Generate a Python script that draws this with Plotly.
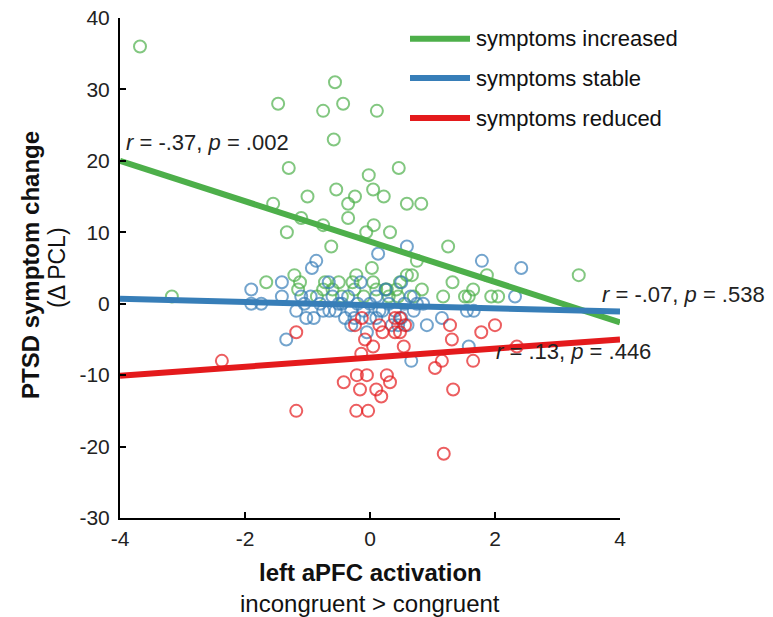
import plotly.graph_objects as go

# ---- data ----
green_x = [-3.68, -3.17, -1.47, -0.56, -0.43, -0.75, 0.11, -0.58, -1.30, 0.46, -0.02, -0.54, 0.05,
           -1.00, -0.24, 0.22, -1.55, -0.35, 0.59, 0.82, -0.35, -1.33, -1.10, -0.75, -0.06, 0.06,
           0.32, -0.62, 1.25, 0.03, 0.75, 3.34, 0.59, 0.67, 0.83, 1.32, 1.87, 1.52, 1.58, 1.65,
           1.17, 1.94, 2.05, 0.27, 0.42, -1.66, -1.21, -1.12, -1.15, -0.75, -0.72, -0.50, -0.28,
           -0.22, 0.05, 0.10, 0.25, -0.10, 0.30, 0.45, -0.45, -0.85, 0.70, -0.60, 0.48, -0.25]
green_y = [36, 1, 28, 31, 28, 27, 27, 23, 19, 19, 18, 16, 16,
           15, 15, 15, 14, 14, 14, 14, 12, 10, 12, 11, 10, 11,
           10, 8, 8, 5, 6, 4, 4, 4, 2, 3, 4, 1, 1, 2,
           1, 1, 1, 2, 2, 3, 4, 3, 2, 2, 3, 3, 3,
           4, 3, 2, 2, 1, 1, 1, 1, 1, 1, 2, 3, 2]

blue_x = [-1.90, -1.90, -1.74, -1.41, -1.41, -1.34, -1.18, -1.02, -0.90, -0.86, -0.93, -0.66,
          -1.10, -1.05, -0.95, -0.80, -0.75, -0.65, -0.55, -0.45, -0.40, -0.30, -0.20, -0.10,
          0.00, 0.10, 0.20, 0.30, 0.40, 0.50, 0.55, 0.65, 0.75, 0.60, -0.30, -0.15, 0.10, 0.13,
          0.59, 0.50, 0.70, 0.91, 1.15, 1.55, 1.66, 1.58, 1.79, 2.42, 2.32, 0.66, -0.50, -0.25,
          0.35, 0.00, -0.60, 0.15, 0.45, -0.05, 0.25, -0.35, 0.85]
blue_y = [2, 0, 0, 3, 1, -5, -1, -2, -2, 6, 5, 3,
          1, 0, 1, 0, -1, -1, -1, 0, -2, -1, 0, -1,
          -2, -2, -1, 0, -1, -2, 0, 1, 0, -3, -3, 3, 1, 7,
          8, 3, -1, -3, -2, -1, -1, -6, 6, 5, 1, -8, 0, -2,
          -3, 0, 1, -1, -3, -4, 2, 1, 0]

red_x = [-2.37, -1.18, -1.18, -0.13, -0.24, -0.08, 0.05, -0.14, 0.54, 1.31, 1.04, 1.65, 2.35,
         1.78, 1.28, 2.00, -0.21, -0.05, -0.42, 0.27, 0.32, -0.16, 0.10, 0.18, 1.33, -0.22,
         -0.03, 1.18, 0.40, 0.48, 0.40, 0.48, 0.56, 0.15, 1.15, 0.20]
red_y = [-8, -4, -15, -2, -3, -5, -6, -7, -6, -5, -9, -8, -6,
         -4, -3, -3, -10, -10, -11, -10, -11, -12, -12, -13, -12, -15,
         -15, -21, -2, -2, -4, -4, -3, -3, -8, -4]

fit_x = [-4, 4]
green_fit = [20.0, -2.6]
blue_fit = [0.7, -1.1]
red_fit = [-10.1, -5.0]

series_names = ["symptoms increased", "symptoms stable", "symptoms reduced"]
stats_text = ["<i>r</i> = -.37, <i>p</i> = .002",
              "<i>r</i> = -.07, <i>p</i> = .538",
              "<i>r</i> = .13, <i>p</i> = .446"]

x_ticks = [-4, -2, 0, 2, 4]
y_ticks = [-30, -20, -10, 0, 10, 20, 30, 40]

# ---- styles ----
C_GREEN = "rgb(77,175,74)"
C_BLUE = "rgb(55,126,184)"
C_RED = "rgb(228,26,28)"
FONT = "Liberation Sans, Arial, sans-serif"

fig = go.Figure()
for xs, ys, col in [(green_x, green_y, C_GREEN), (blue_x, blue_y, C_BLUE), (red_x, red_y, C_RED)]:
    fig.add_trace(go.Scatter(x=xs, y=ys, mode="markers", showlegend=False,
                             marker=dict(symbol="circle-open", size=12, opacity=0.7,
                                         color=col, line=dict(width=2, color=col))))
for fy, col in [(green_fit, C_GREEN), (blue_fit, C_BLUE), (red_fit, C_RED)]:
    fig.add_trace(go.Scatter(x=fit_x, y=fy, mode="lines", showlegend=False,
                             line=dict(color=col, width=6)))

# stats annotations
stat_pos = [(-3.94, 22.6), (3.68, 1.3), (1.98, -6.7)]
for txt, (ax, ay) in zip(stats_text, stat_pos):
    fig.add_annotation(x=ax, y=ay, text=txt, showarrow=False, xanchor="left", yanchor="middle",
                       font=dict(family=FONT, size=22, color="#222"))

# custom legend
leg_y = [37.1, 31.6, 26.0]
for name, col, ly in zip(series_names, [C_GREEN, C_BLUE, C_RED], leg_y):
    fig.add_shape(type="line", x0=0.64, x1=1.6, y0=ly, y1=ly, line=dict(color=col, width=6))
    fig.add_annotation(x=1.66, y=ly, text=name, showarrow=False, xanchor="left", yanchor="middle",
                       font=dict(family=FONT, size=22, color="#111"))

# axis titles
fig.add_annotation(xref="paper", yref="paper", x=0.5, y=-0.108, text="<b>left aPFC activation</b>",
                   showarrow=False, xanchor="center", yanchor="middle",
                   font=dict(family=FONT, size=24, color="#111"))
fig.add_annotation(xref="paper", yref="paper", x=0.5, y=-0.17, text="incongruent > congruent",
                   showarrow=False, xanchor="center", yanchor="middle",
                   font=dict(family=FONT, size=24, color="#111"))
fig.add_annotation(xref="paper", yref="paper", x=-0.18, y=0.506, text="<b>PTSD symptom change</b>",
                   showarrow=False, textangle=-90, xanchor="center", yanchor="middle",
                   font=dict(family=FONT, size=24, color="#111"))
fig.add_annotation(xref="paper", yref="paper", x=-0.126, y=0.5, text="(Δ PCL)",
                   showarrow=False, textangle=-90, xanchor="center", yanchor="middle",
                   font=dict(family=FONT, size=23, color="#111"))

fig.update_layout(
    width=773, height=617,
    margin=dict(l=120, r=153, t=18, b=99, autoexpand=False),
    plot_bgcolor="white", paper_bgcolor="white",
    showlegend=False,
    font=dict(family=FONT, size=21, color="#222"),
)
fig.update_xaxes(range=[-4, 4], tickvals=x_ticks, ticktext=[str(v) for v in x_ticks],
                 showgrid=False, zeroline=False, showline=True, linecolor="black", linewidth=2,
                 ticks="inside", ticklen=6, tickwidth=2, tickcolor="black",
                 ticklabelstandoff=1, ticklabeloverflow="allow", automargin=False,
                 tickfont=dict(family=FONT, size=21, color="#222"))
fig.update_yaxes(range=[-30, 40], tickvals=y_ticks, ticktext=[str(v) for v in y_ticks],
                 showgrid=False, zeroline=False, showline=True, linecolor="black", linewidth=2,
                 ticks="inside", ticklen=6, tickwidth=2, tickcolor="black",
                 ticklabelstandoff=4, ticklabeloverflow="allow", automargin=False,
                 tickfont=dict(family=FONT, size=21, color="#222"))

fig.write_html("out.html", config={"displayModeBar": False},
               post_script="document.body.style.margin='0px';")
